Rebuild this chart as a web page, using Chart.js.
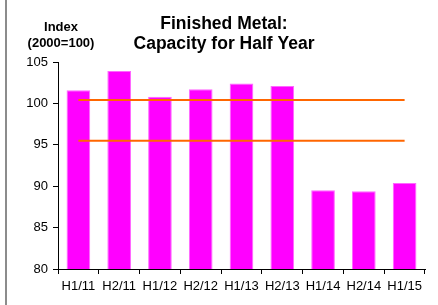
<!DOCTYPE html>
<html>
<head>
<meta charset="utf-8">
<script src="https://cdn.jsdelivr.net/npm/chart.js@4"></script>
<style>
  html, body { margin: 0; padding: 0; background: #fff; }
  #wrap { position: relative; width: 438px; height: 305px; }
  #wrap:before { content: ""; position: absolute; left: 5px; top: 0; width: 2px; height: 305px; background: #8c8c8c; }
</style>
</head>
<body>
<div id="wrap"><canvas id="chart" width="438" height="305"></canvas></div>
<script>
const categories = ["H1/11", "H2/11", "H1/12", "H2/12", "H1/13", "H2/13", "H1/14", "H2/14", "H1/15"];
const capacity = [101.6, 103.9, 100.8, 101.7, 102.4, 102.1, 89.5, 89.4, 90.4];
const upperLine = [100.4, 100.4, 100.4, 100.4, 100.4, 100.4, 100.4, 100.4, 100.4];
const lowerLine = [95.5, 95.5, 95.5, 95.5, 95.5, 95.5, 95.5, 95.5, 95.5];
const yTicks = [80, 85, 90, 95, 100, 105];

const FONT = "'Liberation Sans', Arial, sans-serif";

// Titles and axis caption
const textPlugin = {
    id: "texts",
    afterDraw(chart) {
        const c = chart.ctx;
        c.save();
        c.fillStyle = "#000";
        c.textAlign = "center";
        c.textBaseline = "middle";
        c.font = "bold 17.5px " + FONT;
        c.fillText("Finished Metal:", 224, 24);
        c.fillText("Capacity for Half Year", 224, 44);
        c.font = "bold 13px " + FONT;
        c.fillText("Index", 61, 27);
        c.fillText("(2000=100)", 61, 43);
        c.restore();
    }
};

new Chart(document.getElementById("chart"), {
    type: "bar",
    data: {
        labels: categories,
        datasets: [
            {
                type: "line",
                data: upperLine,
                borderColor: "#ff6600",
                borderWidth: 2,
                pointRadius: 0,
                order: 0
            },
            {
                type: "line",
                data: lowerLine,
                borderColor: "#ff6600",
                borderWidth: 2,
                pointRadius: 0,
                order: 0
            },
            {
                data: capacity,
                backgroundColor: "#ff00ff",
                borderColor: "#ff66ff",
                borderWidth: 1,
                categoryPercentage: 1,
                barPercentage: 0.58,
                order: 1
            }
        ]
    },
    options: {
        responsive: false,
        animation: false,
        layout: { padding: { top: 62, left: 0, right: 13, bottom: 0 } },
        plugins: {
            legend: { display: false },
            title: { display: false },
            tooltip: { enabled: false }
        },
        scales: {
            x: {
                offset: true,
                grid: { display: true, drawOnChartArea: false, offset: true, drawTicks: true, tickLength: 5, color: "#000" },
                border: { color: "#000", width: 1 },
                ticks: { color: "#000", font: { family: FONT, size: 13 }, padding: 5, maxRotation: 0, autoSkip: false },
                afterFit(s) { s.height = 36; }
            },
            y: {
                min: 80,
                max: 105,
                afterBuildTicks(s) { s.ticks = yTicks.map(v => ({ value: v })); },
                grid: { display: true, drawOnChartArea: false, drawTicks: true, tickLength: 5, color: "#000" },
                border: { color: "#000", width: 1 },
                ticks: { color: "#000", font: { family: FONT, size: 13 }, padding: 5 },
                afterFit(s) { s.width = 58; }
            }
        }
    },
    plugins: [textPlugin]
});
</script>
</body>
</html>
